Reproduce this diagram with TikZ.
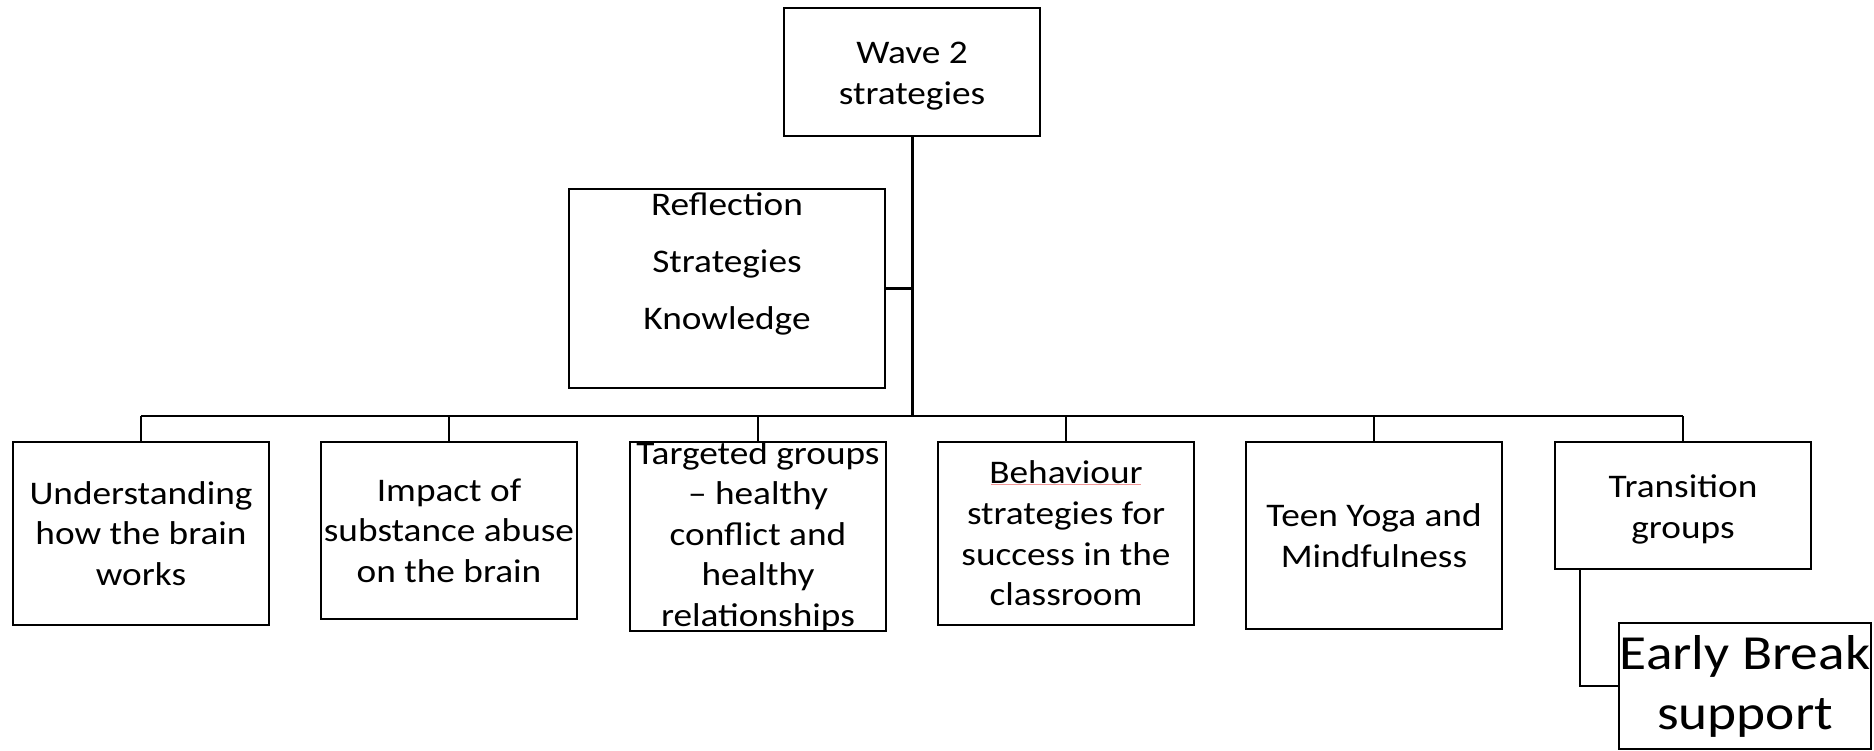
\documentclass[tikz,border=0pt]{standalone}
\usepackage{fontspec}
\setmainfont{Carlito}[FakeStretch=1.13]
\definecolor{spell}{RGB}{240,150,150}
\begin{document}
\begin{tikzpicture}[x=1pt,y=-1pt,
  box/.style={draw=black, line width=2.5pt, inner sep=0pt, minimum width=256pt},
  txt/.style={align=center, inner sep=0pt, font=\fontsize{33}{40.6}\selectfont},
  conn/.style={draw=black, line width=2.2pt},
  trunk/.style={draw=black, line width=3pt}]
\useasboundingbox (0,0) rectangle (1874,751);
% boxes
\node[box, minimum height=128pt] (wave) at (912,72) {};
\node[txt] (wavet) at ([yshift=-4pt]wave.center) {Wave 2\\strategies};
\node[box, minimum width=316pt, minimum height=199pt] (refl) at (727,288.5) {};
\node[txt, font=\fontsize{33}{57}\selectfont, anchor=north] (reflt) at (727,192) {Reflection\\Strategies\\Knowledge};
\node[box, minimum height=183pt] (b1) at (141,533.5) {};
\node[txt] (b1t) at (b1) {Understanding\\how the brain\\works};
\node[box, minimum height=177pt] (b2) at (449,530.5) {};
\node[txt] (b2t) at (b2) {Impact of\\substance abuse\\on the brain};
\node[box, minimum height=189pt] (b3) at (758,536.5) {};
\node[txt] (b3t) at (b3) {Targeted groups\\– healthy\\conflict and\\healthy\\relationships};
\node[box, minimum height=183pt] (b4) at (1066,533.5) {};
\node[txt] (b4t) at (b4) {Behaviour\\strategies for\\success in the\\classroom};
\node[box, minimum height=187pt] (b5) at (1374,535.5) {};
\node[txt] (b5t) at (b5) {Teen Yoga and\\Mindfulness};
\node[box, minimum height=127pt] (b6) at (1683,505.5) {};
\node[txt] (b6t) at ([yshift=-4pt]b6.center) {Transition\\groups};
\node[box, minimum width=252pt, minimum height=126pt] (eb) at (1745,686) {};
\node[txt, font=\fontsize{49}{60}\selectfont] (ebt) at (eb) {Early Break\\support};
% spell-check underline
\draw[spell, line width=1pt] (991,484) -- (1141,484);
% connectors
\coordinate (j) at (912,416);
\draw[trunk] (wave.south) -- (j);
\draw[conn] (refl.east) -- (refl.east -| j);
\draw[conn] (b1.north |- j) -- (b6.north |- j);
\foreach \b in {b1,b2,b3,b4,b5,b6} {\draw[conn] (\b.north) -- (\b.north |- j);}
\draw[conn] (b6.south west) ++(26,0) |- (eb.west);
\end{tikzpicture}
\end{document}
